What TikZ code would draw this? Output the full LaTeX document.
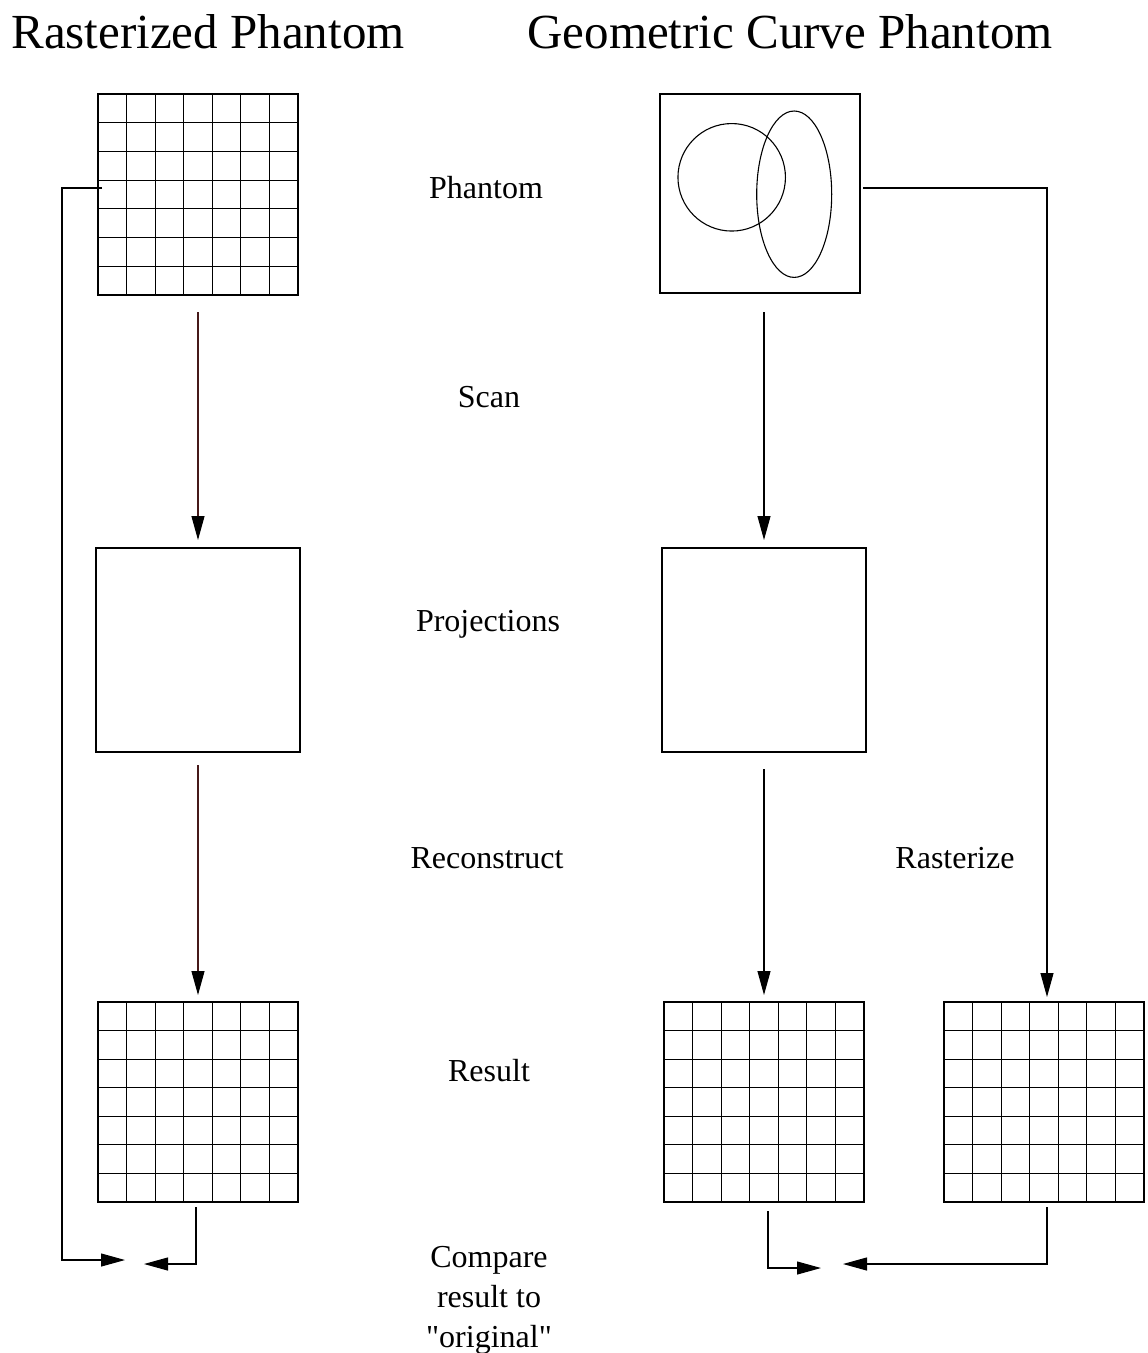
\documentclass[tikz,border=0pt]{standalone}
\usepackage{fontspec}
\setmainfont{Liberation Serif}
\usetikzlibrary{arrows.meta,calc,shapes.geometric}
\definecolor{wire}{RGB}{70,25,25}
\begin{document}
\begin{tikzpicture}[x=1pt,y=-1pt,
  line width=1.1pt,
  frame/.style={draw, line width=1.1pt, inner sep=0pt, outer sep=0pt},
  arr/.style={-{Triangle[length=24pt,width=13pt,color=black]}},
  title/.style={font=\fontsize{49}{55}\selectfont, anchor=base, inner sep=0pt},
  lbl/.style={font=\fontsize{32}{40}\selectfont, anchor=base, inner sep=0pt},
]
\useasboundingbox (0,0) rectangle (1148,1353);

% titles
\node[title] (t1) at (208,48) {Rasterized Phantom};
\node[title] (t2) at (790,48) {Geometric Curve Phantom};

% boxes
\node[frame, minimum width=200pt, minimum height=201pt] (g1) at (198,194.5) {};
\node[frame, minimum width=200pt, minimum height=199pt] (ph) at (760,193.5) {};
\node[frame, minimum width=204pt, minimum height=204pt] (p1) at (198,650) {};
\node[frame, minimum width=204pt, minimum height=204pt] (p2) at (764,650) {};
\node[frame, minimum width=200pt, minimum height=200pt] (r1) at (198,1102) {};
\node[frame, minimum width=200pt, minimum height=200pt] (r2) at (764,1102) {};
\node[frame, minimum width=200pt, minimum height=200pt] (r3) at (1044,1102) {};

% grids
\foreach \g in {g1,r1,r2,r3}{
  \foreach \i in {1,...,6}{
    \draw ($(\g.north west)!\i/7!(\g.north east)$) -- ($(\g.south west)!\i/7!(\g.south east)$);
    \draw ($(\g.north west)!\i/7!(\g.south west)$) -- ($(\g.north east)!\i/7!(\g.south east)$);
  }
}

% curves
\node[draw, circle, line width=1.1pt, minimum size=107.5pt, inner sep=0pt] (circ) at (731.7,177.3) {};
\node[draw, ellipse, line width=1.1pt, minimum width=75pt, minimum height=166.4pt, inner sep=0pt] (ell) at (794.2,194.2) {};

% labels
\node[lbl] (l1) at (486,198) {Phantom};
\node[lbl] (l2) at (489,407) {Scan};
\node[lbl] (l3) at (488,631) {Projections};
\node[lbl] (l4) at (487,868) {Reconstruct};
\node[lbl] (l5) at (955,868) {Rasterize};
\node[lbl] (l6) at (489,1081) {Result};
\node[lbl] (l7a) at (489,1267) {Compare};
\node[lbl] (l7b) at (489,1307) {result to};
\node[lbl] (l7c) at (489,1347) {\textquotedbl original\textquotedbl};

% vertical flow arrows
\draw[arr, wire] ([yshift=-17pt]g1.south) -- ([yshift=8pt]p1.north);
\draw[arr, wire] ([yshift=-13pt]p1.south) -- ([yshift=7pt]r1.north);
\draw[arr] ([xshift=4pt,yshift=-19pt]ph.south) -- ([yshift=8pt]p2.north);
\draw[arr] ([yshift=-17pt]p2.south) -- ([yshift=7pt]r2.north);

% rasterize path
\draw[arr] ($(ph.east)+(3,-5.5)$) -| ([xshift=3pt,yshift=5pt]r3.north);

% compare targets
\coordinate (cl) at (125,1260);
\coordinate (cl2) at (144,1264);
\coordinate (cm1) at (821,1268);
\coordinate (cm2) at (843,1264);

\draw[arr] ($(g1.west)+(4,-6.5)$) -- ++(-40,0) |- (cl);
\draw[arr] ([xshift=-2pt,yshift=-5pt]r1.south) |- (cl2);
\draw[arr] ([xshift=4pt,yshift=-9pt]r2.south) |- (cm1);
\draw[arr] ([xshift=3pt,yshift=-5pt]r3.south) |- (cm2);
\end{tikzpicture}
\end{document}
